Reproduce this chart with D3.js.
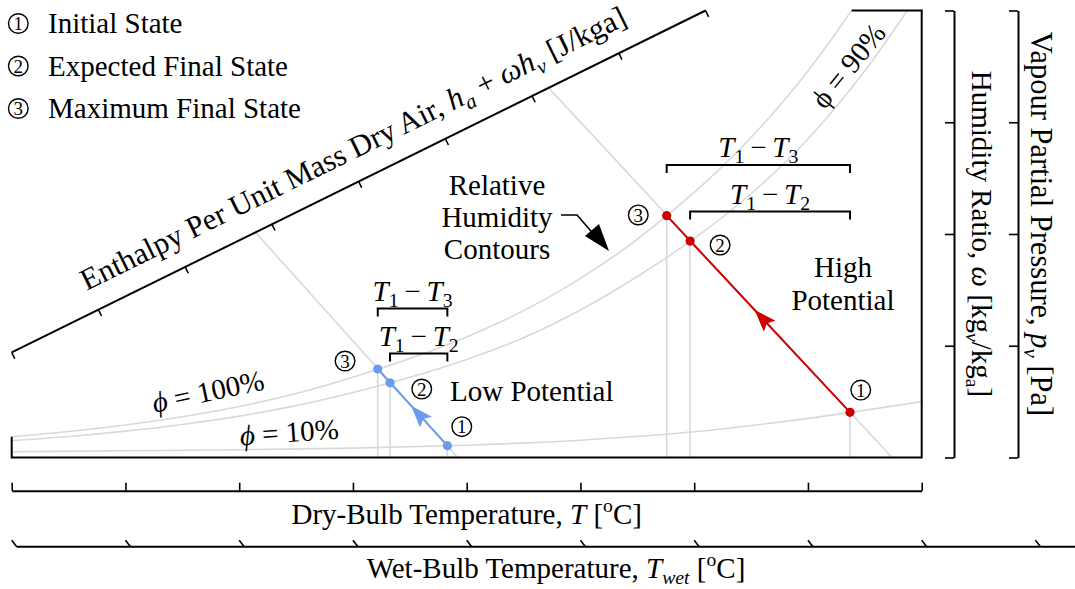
<!DOCTYPE html>
<html>
<head>
<meta charset="utf-8">
<script src="https://cdn.jsdelivr.net/npm/d3@7"></script>
<style>
  body { margin: 0; background: #fff; }
  #chart svg text, #chart svg tspan { font-family: "Liberation Serif" !important; }
</style>
</head>
<body>
<div id="chart"></div>
<script>
// dry-bulb temperature grid used by the contours [degC]
const temps = [0, 2.5, 5, 7.5, 10, 12.5, 15, 17.5, 20, 22.5, 25, 27.5, 30, 32.5, 35, 37.5, 40];
// humidity ratio along the contours [g/kg]
const rh100 = [1.86, 2.33, 2.91, 3.64, 4.56, 5.72, 7.18, 8.85, 10.79, 13.14, 16.03, 19.53, 23.72, 28.64, 34.59, 41.8, 50.5];
const rh90  = [1.50, 1.88, 2.36, 2.96, 3.70, 4.64, 5.82, 7.18, 8.78, 10.72, 13.2, 16.2, 19.6, 23.6, 28.5, 34.6, 41.9];
const tempsCoarse = [0, 5, 10, 15, 20, 25, 30, 35, 40];
const rh10  = [0.52, 0.60, 0.70, 0.84, 1.10, 1.55, 2.30, 3.50, 5.00];

// states 1 (initial), 2 (expected final), 3 (maximum final)
const stateIds = ['1', '2', '3'];
const lowT  = [19.15, 16.63, 16.09];
const lowW  = [1.06, 6.69, 7.92];
const highT = [36.85, 29.82, 28.79];
const highW = [4.04, 19.37, 21.64];

// constant enthalpy lines: enthalpy where they leave the axis, dry-bulb where they reach w = 0
const enthLineH  = [28.1, 61.9];
const enthLineT0 = [19.6, 38.7];

// axis ticks
const dryTicks  = [0, 5, 10, 15, 20, 25, 30, 35, 40];
const wetTicks  = [0, 5, 10, 15, 20, 25, 30, 35, 40, 45];
const humTicks  = [0, 10, 20, 30, 40];
const vapTicks  = [0, 1500, 3000, 4500, 6000];
const enthTicks = [0, 10, 20, 30, 40, 50, 60, 70, 80];
// the slanted enthalpy axis runs between these chart points (T, w)
const enthFrom = [0, 9.4];
const enthTo   = [30.5, 40];

const legendItems = ['Initial State', 'Expected Final State', 'Maximum Final State'];

const W = 1075, H = 589;
const FS = 29;
const FONT = '"Liberation Serif"';
const GRAY = '#d9d9d9', BLUE = '#6b9bef', RED = '#cc0000';

const x = d3.scaleLinear().domain([0, 40]).range([11.7, 921.7]);
const y = d3.scaleLinear().domain([0, 40]).range([457.5, 10.5]);
const pScale = d3.scaleLinear().domain([0, 6000]).range([457.5, 10.5]);
const enthScale = d3.scaleLinear().domain([0, 80]).range([0, 1]);

const svg = d3.select('#chart').append('svg')
  .attr('width', W)
  .attr('height', H)
  .attr('font-family', 'Liberation Serif');

svg.append('clipPath').attr('id', 'plotClip')
  .append('rect')
  .attr('x', x(0)).attr('y', y(40))
  .attr('width', x(40) - x(0)).attr('height', y(0) - y(40));

function txt(parent, size) {
  return parent.append('text')
    .attr('font-family', 'Liberation Serif')
    .style('font-family', FONT)
    .style('font-size', (size || FS) + 'px');
}

// rich text: parts of {t, it, sub, sup}
function rich(sel, parts, fs) {
  fs = fs || FS;
  let shift = 0;
  parts.forEach(p => {
    const t = sel.append('tspan').text(p.t);
    if (p.it) t.style('font-style', 'italic');
    const target = p.sub ? 0.22 * fs : p.sup ? -0.4 * fs : 0;
    if (target !== shift) { t.attr('dy', target - shift); shift = target; }
    if (p.sub || p.sup) t.style('font-size', (0.68 * fs) + 'px');
  });
  return sel;
}

function circled(g, cx, cy, label) {
  g.append('circle').attr('cx', cx).attr('cy', cy).attr('r', 9.8)
    .attr('fill', '#fff').attr('stroke', '#000').attr('stroke-width', 1.4);
  txt(g, 19).attr('x', cx).attr('y', cy).attr('dy', '0.35em')
    .attr('text-anchor', 'middle').text(label);
}

// ---- grey contours
const plot = svg.append('g').attr('clip-path', 'url(#plotClip)');
const line = d3.line().x(d => x(d[0])).y(d => y(d[1])).curve(d3.curveMonotoneX);

[rh100, rh90].forEach(arr => {
  plot.append('path').datum(d3.zip(temps, arr)).attr('d', line)
    .attr('fill', 'none').attr('stroke', GRAY).attr('stroke-width', 1.6);
});
plot.append('path').datum(d3.zip(tempsCoarse, rh10)).attr('d', line)
  .attr('fill', 'none').attr('stroke', GRAY).attr('stroke-width', 1.6);

function enthPoint(h) {
  const f = enthScale(h);
  return [x(enthFrom[0] + f * (enthTo[0] - enthFrom[0])), y(enthFrom[1] + f * (enthTo[1] - enthFrom[1]))];
}

enthLineH.forEach((h, i) => {
  const p = enthPoint(h);
  svg.append('line')
    .attr('x1', p[0]).attr('y1', p[1])
    .attr('x2', x(enthLineT0[i])).attr('y2', y(0))
    .attr('stroke', GRAY).attr('stroke-width', 1.6);
});

// vertical drop lines from every state
[[lowT, lowW], [highT, highW]].forEach(([ts, ws]) => {
  ts.forEach((t, i) => {
    svg.append('line')
      .attr('x1', x(t)).attr('y1', y(ws[i]))
      .attr('x2', x(t)).attr('y2', y(0))
      .attr('stroke', GRAY).attr('stroke-width', 1.6);
  });
});

// ---- plot border (left piece, bottom, right, top piece)
const lnTop = Math.log(40);
let tTop = 40;
for (let i = 0; i < temps.length - 1; i++) {
  if (rh100[i] < 40 && rh100[i + 1] >= 40) {
    const f = (lnTop - Math.log(rh100[i])) / (Math.log(rh100[i + 1]) - Math.log(rh100[i]));
    tTop = temps[i] + f * (temps[i + 1] - temps[i]);
  }
}
svg.append('path')
  .attr('d', `M${x(0)},${y(rh100[0])}V${y(0)}H${x(40)}V${y(40)}H${x(tTop)}`)
  .attr('fill', 'none').attr('stroke', '#000').attr('stroke-width', 2);

// ---- process paths
function process(ts, ws, color, labelOff) {
  const g = svg.append('g');
  const pts = ts.map((t, i) => [x(t), y(ws[i])]);
  g.append('line')
    .attr('x1', pts[0][0]).attr('y1', pts[0][1])
    .attr('x2', pts[2][0]).attr('y2', pts[2][1])
    .attr('stroke', color).attr('stroke-width', 2);
  // arrowhead halfway from 1 to 3, pointing at 3
  const dx = pts[2][0] - pts[0][0], dy = pts[2][1] - pts[0][1];
  const len = Math.hypot(dx, dy), ux = dx / len, uy = dy / len;
  const tip = [pts[0][0] + dx * 0.52, pts[0][1] + dy * 0.52];
  const L = 22, hw = 8;
  const b = [tip[0] - ux * L, tip[1] - uy * L];
  g.append('path')
    .attr('d', `M${tip[0]},${tip[1]}L${b[0] - uy * hw},${b[1] + ux * hw}L${b[0] + ux * 4},${b[1] + uy * 4}L${b[0] + uy * hw},${b[1] - ux * hw}Z`)
    .attr('fill', color);
  g.selectAll('circle.pt').data(pts).join('circle')
    .attr('class', 'pt')
    .attr('cx', d => d[0]).attr('cy', d => d[1]).attr('r', 4.6)
    .attr('fill', color);
  pts.forEach((p, i) => circled(svg, p[0] + labelOff[i][0], p[1] + labelOff[i][1], stateIds[i]));
}
process(lowT, lowW, BLUE, [[14.4, -19], [31.7, 6.3], [-32.7, -8]]);
process(highT, highW, RED, [[10.7, -22.3], [30, 4], [-28.4, -0.7]]);

// ---- temperature difference brackets
function bracket(t1, t2, yb, parts) {
  const x1 = x(t1), x2 = x(t2);
  svg.append('path')
    .attr('d', `M${x1},${yb + 8}V${yb}H${x2}V${yb + 8}`)
    .attr('fill', 'none').attr('stroke', '#000').attr('stroke-width', 2);
  rich(txt(svg).attr('x', (x1 + x2) / 2).attr('y', yb - 8).attr('text-anchor', 'middle'), parts);
}
const dT = n => [{ t: 'T', it: true }, { t: '1', sub: true }, { t: '\u2009\u2212\u2009' }, { t: 'T', it: true }, { t: n, sub: true }];
bracket(lowT[2], lowT[0], 308.5, dT('3'));
bracket(lowT[1], lowT[0], 353.5, dT('2'));
bracket(highT[2], highT[0], 165, dT('3'));
bracket(highT[1], highT[0], 211.5, dT('2'));

// ---- annotations
txt(svg).attr('x', 450).attr('y', 401).text('Low Potential');
txt(svg).attr('x', 843).attr('y', 277).attr('text-anchor', 'middle').text('High');
txt(svg).attr('x', 843).attr('y', 310).attr('text-anchor', 'middle').text('Potential');
['Relative', 'Humidity', 'Contours'].forEach((s, i) => {
  txt(svg).attr('x', 497).attr('y', 195 + i * 32).attr('text-anchor', 'middle').text(s);
});
svg.append('path').attr('d', 'M561,215H577L597,238').attr('fill', 'none').attr('stroke', '#000').attr('stroke-width', 1.6);
svg.append('path').attr('d', 'M609,251L585,236L599,224Z').attr('fill', '#000');

// contour labels
const phi = (v, it) => [{ t: '\u03d5', it: it }, { t: ' = ' + v + '%' }];
rich(txt(svg).attr('text-anchor', 'middle').attr('transform', 'translate(210,401) rotate(-12)'), phi(100, true));
rich(txt(svg).attr('text-anchor', 'middle').attr('transform', 'translate(290,442) rotate(-4)'), phi(10, true));
rich(txt(svg).attr('text-anchor', 'middle').attr('transform', 'translate(856,72) rotate(-51)'), phi(90, false));

// ---- enthalpy axis
const e0 = enthPoint(0), e1 = enthPoint(80);
const ang = Math.atan2(e1[1] - e0[1], e1[0] - e0[0]);
const ux = Math.cos(ang), uy = Math.sin(ang);
svg.append('line').attr('x1', e0[0]).attr('y1', e0[1]).attr('x2', e1[0]).attr('y2', e1[1])
  .attr('stroke', '#000').attr('stroke-width', 2);
enthTicks.forEach(h => {
  const p = enthPoint(h);
  svg.append('line').attr('x1', p[0]).attr('y1', p[1])
    .attr('x2', p[0] - uy * 7).attr('y2', p[1] + ux * 7)
    .attr('stroke', '#000').attr('stroke-width', 1.6);
});
const BIG = 30.5;
const em = enthPoint(41);
rich(txt(svg, BIG).attr('text-anchor', 'middle')
  .attr('transform', `translate(${em[0] + uy * 22},${em[1] - ux * 22}) rotate(${ang * 180 / Math.PI})`),
  [{ t: 'Enthalpy Per Unit Mass Dry Air, ' }, { t: 'h', it: true }, { t: 'a', it: true, sub: true },
   { t: ' + ' }, { t: '\u03c9h', it: true }, { t: 'v', it: true, sub: true }, { t: ' [J/kga]' }], BIG);

// ---- right axes
function styleAxis(g) {
  g.select('.domain').attr('stroke-width', 2);
  g.selectAll('.tick line').attr('stroke-width', 1.6);
  g.selectAll('.tick text').remove();
}
svg.append('g').attr('transform', 'translate(954,0)')
  .call(d3.axisLeft(y).tickValues(humTicks).tickSize(9).tickSizeOuter(0).tickFormat(''))
  .call(styleAxis);
svg.append('g').attr('transform', 'translate(1018,0)')
  .call(d3.axisLeft(pScale).tickValues(vapTicks).tickSize(9).tickSizeOuter(0).tickFormat(''))
  .call(styleAxis);
rich(txt(svg).attr('text-anchor', 'middle').attr('transform', 'translate(972,234) rotate(90)'),
  [{ t: 'Humidity Ratio, ' }, { t: '\u03c9', it: true }, { t: ' [kg' }, { t: 'v', it: true, sub: true },
   { t: '/kg' }, { t: 'a', sub: true }, { t: ']' }]);
rich(txt(svg, BIG).attr('text-anchor', 'middle').attr('transform', 'translate(1031,224) rotate(90)'),
  [{ t: 'Vapour Partial Pressure, ' }, { t: 'p', it: true }, { t: 'v', it: true, sub: true }, { t: ' [Pa]' }], BIG);

// ---- bottom axes
svg.append('g').attr('transform', 'translate(0,490.7)')
  .call(d3.axisTop(x).tickValues(dryTicks).tickSize(8).tickSizeOuter(0).tickFormat(''))
  .call(styleAxis);
rich(txt(svg).attr('x', x(20)).attr('y', 524).attr('text-anchor', 'middle'),
  [{ t: 'Dry-Bulb Temperature, ' }, { t: 'T', it: true }, { t: ' [' }, { t: 'o', sup: true }, { t: 'C]' }]);

const wet = svg.append('g').attr('transform', 'translate(0,546.7)');
wet.append('line').attr('x1', x(0) + 5).attr('x2', W).attr('y1', 0).attr('y2', 0)
  .attr('stroke', '#000').attr('stroke-width', 2);
wet.selectAll('line.tk').data(wetTicks).join('line').attr('class', 'tk')
  .attr('x1', d => x(d)).attr('y1', -6.5)
  .attr('x2', d => x(d) + 5).attr('y2', 0)
  .attr('stroke', '#000').attr('stroke-width', 1.6);
rich(txt(svg).attr('x', 556).attr('y', 578).attr('text-anchor', 'middle'),
  [{ t: 'Wet-Bulb Temperature, ' }, { t: 'T', it: true }, { t: 'wet', it: true, sub: true }, { t: ' [' }, { t: 'o', sup: true }, { t: 'C]' }]);

// ---- legend
legendItems.forEach((s, i) => {
  const by = 33 + i * 42.5;
  circled(svg, 18.3, by - 9.5, String(i + 1));
  txt(svg).attr('x', 48).attr('y', by).text(s);
});
</script>
</body>
</html>
